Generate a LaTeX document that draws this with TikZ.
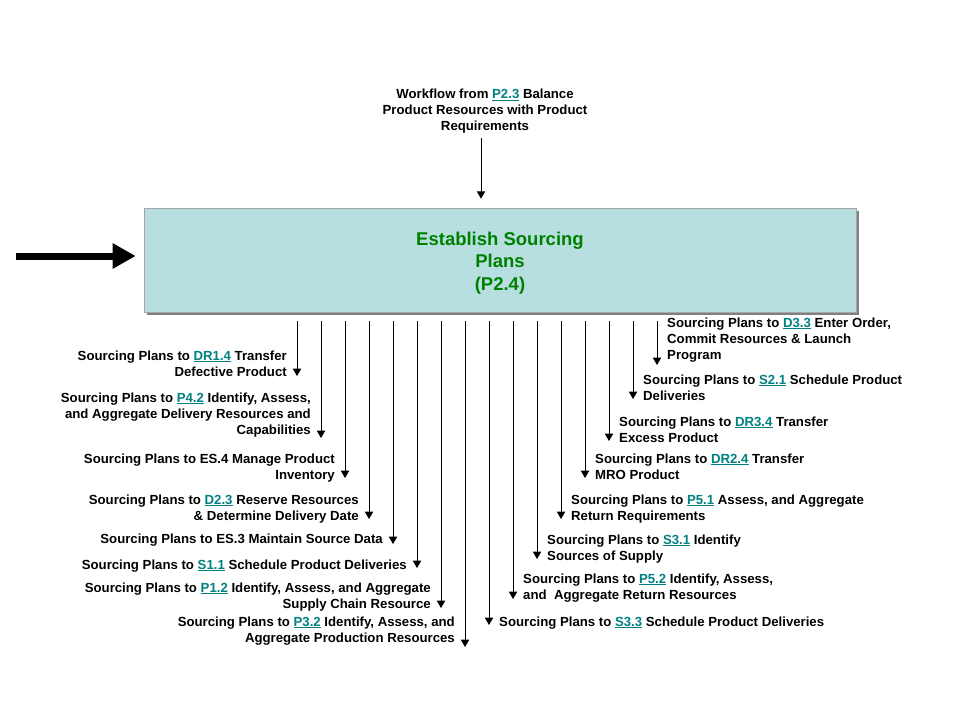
\documentclass[tikz,border=0pt]{standalone}
\usepackage{fontspec}
\setmainfont{Liberation Sans}
\usepackage{tikz}
\usetikzlibrary{shapes,arrows,arrows.meta,shadows}
\definecolor{boxteal}{RGB}{184,223,224}
\definecolor{linkteal}{RGB}{0,128,128}
\definecolor{titlegreen}{RGB}{0,128,0}
\newcommand{\lnk}[1]{\textcolor{linkteal}{\underline{#1}}}

\begin{document}
\begin{tikzpicture}[x=1pt,y=-1pt]

\tikzstyle{teal-b} = [draw=black!35, line width=0.6, fill=boxteal,
minimum width=712, minimum height=104,
drop shadow={shadow xshift=3pt, shadow yshift=-3pt, fill=black!50, opacity=1}]
\tikzstyle{title} = [text=titlegreen, align=center,
font=\fontsize{18.5}{22.5}\selectfont\bfseries]
\tikzstyle{lbl} = [inner sep=0, font=\fontsize{13.2}{16}\selectfont\bfseries]
\tikzstyle{flow} = [-triangle 60, line width=1]
\tikzstyle{dnarrow} = [-triangle 60, line width=1, shorten <=8.5pt]
\tikzstyle{big} = [-{Triangle[width=24pt,length=23pt]}, line width=7]

\useasboundingbox (0,0) rectangle (960,720);

\node [teal-b] (box) at (500,260) {};
\node [title] (p24) at (500,263) {Establish Sourcing\\Plans\\(P2.4)};

\node [lbl, anchor=base] (wf) at (485,98.5) {\begin{tabular}[t]{@{}c@{}}
Workflow from \lnk{P2.3} Balance\\ Product Resources with Product\\ Requirements\end{tabular}};
\draw[flow, shorten <=2.5pt, shorten >=9pt] ([xshift=-4pt]wf.south) -- ([xshift=-4pt]wf.south |- box.north);

\coordinate (src) at (16,256);
\draw[big, shorten >=8pt] (src) -- (src -| box.west);

% left side
\node [lbl, anchor=base east] (dr14) at (287,360) {\begin{tabular}[t]{@{}r@{}}
Sourcing Plans to \lnk{DR1.4} Transfer\\ Defective Product\end{tabular}};
\coordinate (tDR14) at (297,376);
\draw[dnarrow] (box.south -| tDR14) -- (tDR14);

\node [lbl, anchor=base east] (p42) at (311,402) {\begin{tabular}[t]{@{}r@{}}
Sourcing Plans to \lnk{P4.2} Identify, Assess,\\ and Aggregate Delivery Resources and\\ Capabilities\end{tabular}};
\coordinate (tP42) at (321,438);
\draw[dnarrow] (box.south -| tP42) -- (tP42);

\node [lbl, anchor=base east] (es4) at (335,463) {\begin{tabular}[t]{@{}r@{}}
Sourcing Plans to ES.4 Manage Product\\ Inventory\end{tabular}};
\coordinate (tES4) at (345,478);
\draw[dnarrow] (box.south -| tES4) -- (tES4);

\node [lbl, anchor=base east] (d23) at (359,504) {\begin{tabular}[t]{@{}r@{}}
Sourcing Plans to \lnk{D2.3} Reserve Resources\\ \& Determine Delivery Date\end{tabular}};
\coordinate (tD23) at (369,519);
\draw[dnarrow] (box.south -| tD23) -- (tD23);

\node [lbl, anchor=base east] (es3) at (383,543) {\begin{tabular}[t]{@{}r@{}}
Sourcing Plans to ES.3 Maintain Source Data\end{tabular}};
\coordinate (tES3) at (393,544);
\draw[dnarrow] (box.south -| tES3) -- (tES3);

\node [lbl, anchor=base east] (s11) at (407,569) {\begin{tabular}[t]{@{}r@{}}
Sourcing Plans to \lnk{S1.1} Schedule Product Deliveries\end{tabular}};
\coordinate (tS11) at (417,568);
\draw[dnarrow] (box.south -| tS11) -- (tS11);

\node [lbl, anchor=base east] (p12) at (431,592) {\begin{tabular}[t]{@{}r@{}}
Sourcing Plans to \lnk{P1.2} Identify, Assess, and Aggregate\\ Supply Chain Resource\end{tabular}};
\coordinate (tP12) at (441,608);
\draw[dnarrow] (box.south -| tP12) -- (tP12);

\node [lbl, anchor=base east] (p32) at (455,626) {\begin{tabular}[t]{@{}r@{}}
Sourcing Plans to \lnk{P3.2} Identify, Assess, and\\ Aggregate Production Resources\end{tabular}};
\coordinate (tP32) at (465,647);
\draw[dnarrow] (box.south -| tP32) -- (tP32);

% right side
\node [lbl, anchor=base west] (s33) at (499,626) {\begin{tabular}[t]{@{}l@{}}
Sourcing Plans to \lnk{S3.3} Schedule Product Deliveries\end{tabular}};
\coordinate (tS33) at (489,625);
\draw[dnarrow] (box.south -| tS33) -- (tS33);

\node [lbl, anchor=base west] (p52) at (523,583) {\begin{tabular}[t]{@{}l@{}}
Sourcing Plans to \lnk{P5.2} Identify, Assess,\\ and\ \ Aggregate Return Resources\end{tabular}};
\coordinate (tP52) at (513,599);
\draw[dnarrow] (box.south -| tP52) -- (tP52);

\node [lbl, anchor=base west] (s31) at (547,544) {\begin{tabular}[t]{@{}l@{}}
Sourcing Plans to \lnk{S3.1} Identify\\ Sources of Supply\end{tabular}};
\coordinate (tS31) at (537,559);
\draw[dnarrow] (box.south -| tS31) -- (tS31);

\node [lbl, anchor=base west] (p51) at (571,504) {\begin{tabular}[t]{@{}l@{}}
Sourcing Plans to \lnk{P5.1} Assess, and Aggregate\\ Return Requirements\end{tabular}};
\coordinate (tP51) at (561,519);
\draw[dnarrow] (box.south -| tP51) -- (tP51);

\node [lbl, anchor=base west] (dr24) at (595,463) {\begin{tabular}[t]{@{}l@{}}
Sourcing Plans to \lnk{DR2.4} Transfer\\ MRO Product\end{tabular}};
\coordinate (tDR24) at (585,478);
\draw[dnarrow] (box.south -| tDR24) -- (tDR24);

\node [lbl, anchor=base west] (dr34) at (619,426) {\begin{tabular}[t]{@{}l@{}}
Sourcing Plans to \lnk{DR3.4} Transfer\\ Excess Product\end{tabular}};
\coordinate (tDR34) at (609,441);
\draw[dnarrow] (box.south -| tDR34) -- (tDR34);

\node [lbl, anchor=base west] (s21) at (643,384) {\begin{tabular}[t]{@{}l@{}}
Sourcing Plans to \lnk{S2.1} Schedule Product\\ Deliveries\end{tabular}};
\coordinate (tS21) at (633,399);
\draw[dnarrow] (box.south -| tS21) -- (tS21);

\node [lbl, anchor=base west] (d33) at (667,327) {\begin{tabular}[t]{@{}l@{}}
Sourcing Plans to \lnk{D3.3} Enter Order,\\ Commit Resources \& Launch\\ Program\end{tabular}};
\coordinate (tD33) at (657,365);
\draw[dnarrow] (box.south -| tD33) -- (tD33);

\end{tikzpicture}
\end{document}
